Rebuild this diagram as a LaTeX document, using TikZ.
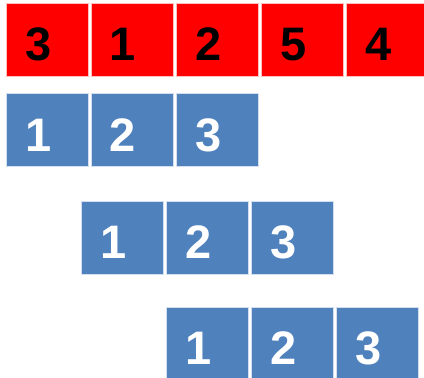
\documentclass[tikz,border=0pt]{standalone}
\usepackage{fontspec}
\setmainfont{Liberation Sans}
\usepackage{xcolor}
\usepackage{tikz}
\usetikzlibrary{positioning}

\definecolor{cellred}{HTML}{FF0000}
\definecolor{cellblue}{HTML}{4F81BD}

\begin{document}
\begin{tikzpicture}[
    x=1pt, y=-1pt,
    cell/.style={draw=#1!25!white, line width=1pt, fill=#1, outer sep=0pt,
                 minimum width=82pt, minimum height=73pt,
                 inner xsep=19pt, text width=44pt, align=left,
                 text height=42pt, text depth=0pt,
                 font=\fontsize{47}{47}\selectfont\bfseries},
    key/.style={cell=cellred, text=black},
    sub/.style={cell=cellblue, text=white}
]
\useasboundingbox (0,0) rectangle (424,378);
% input array
\node[key] (r1) at (47,39.5) {3};
\node[key, right=3pt of r1] (r2) {1};
\node[key, right=3pt of r2] (r3) {2};
\node[key, right=3pt of r3] (r4) {5};
\node[key, right=3pt of r4] (r5) {4};
% window, shifted along
\node[sub] (a1) at (47,130) {1};
\node[sub, right=3pt of a1] (a2) {2};
\node[sub, right=3pt of a2] (a3) {3};
\node[sub] (b1) at (122,237.5) {1};
\node[sub, right=3pt of b1] (b2) {2};
\node[sub, right=3pt of b2] (b3) {3};
\node[sub] (c1) at (207,343.5) {1};
\node[sub, right=3pt of c1] (c2) {2};
\node[sub, right=3pt of c2] (c3) {3};
\end{tikzpicture}
\end{document}
